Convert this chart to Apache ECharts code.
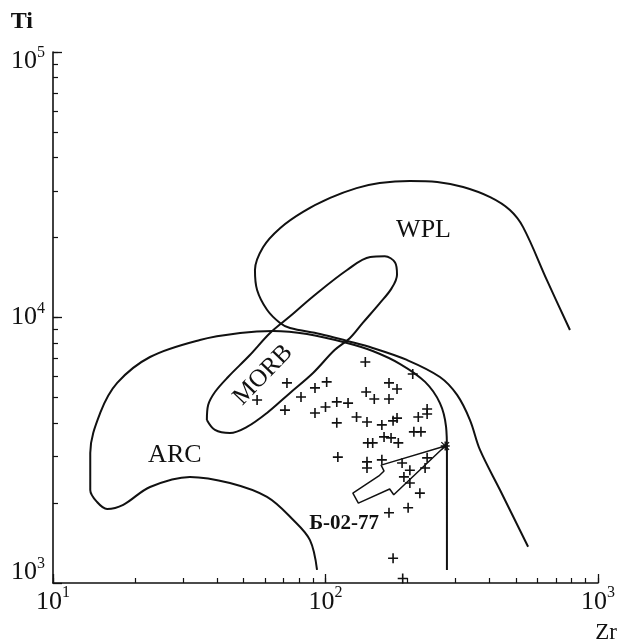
<!DOCTYPE html>
<html>
<head>
<meta charset="utf-8">
<title>Ti - Zr</title>
<script src="https://cdn.jsdelivr.net/npm/echarts@6/dist/echarts.min.js"></script>
<style>
  html, body { margin: 0; padding: 0; background: #fff; }
  #chart { width: 618px; height: 641px; }
</style>
</head>
<body>
<div id="chart"></div>
<script>
// samples, ppm
const sampleZr = [56.1, 72.2, 71.0, 81.3, 91.5, 101, 91.5, 100, 110, 121, 110, 140, 141, 151, 171, 183,
  171, 209, 130, 142, 161, 177, 183, 219, 236, 236, 211, 224, 143, 149, 164, 174, 185, 111, 142, 142,
  161, 191, 204, 194, 204, 236, 232, 222, 201, 171, 177, 192];
const sampleTi = [4890, 5670, 4480, 5020, 5430, 5720, 4370, 4600, 4810, 4760, 4010, 6800, 5240, 4930, 5670, 5380,
  4930, 6130, 4220, 4040, 3940, 4080, 4180, 4220, 4520, 4330, 3710, 3710, 3370, 3370, 3550, 3520, 3370, 2980, 2860, 2710,
  2910, 2830, 2660, 2510, 2380, 2960, 2710, 2180, 1920, 1840, 1240, 1040];

// sample Б-02-77
const markedZr = [275];
const markedTi = [3280];

// field boundaries
const wplZr = [789, 650, 531, 475, 402, 320, 257, 204, 158, 130, 104, 82.7, 68.1, 59.0, 55.1, 56.1, 61.0, 68.1,
  74.1, 95.5, 120, 149, 199, 263, 304, 339, 369, 437, 554];
const wplTi = [8970, 13800, 21900, 25400, 28400, 31000, 32400, 32700, 32100, 30700, 28200, 25000, 21700, 18400, 15100, 12700, 10700, 9540,
  9130, 8670, 8160, 7680, 6920, 5970, 5110, 4110, 3170, 2240, 1370];

const arcZr = [279, 279, 277, 263, 232, 188, 149, 120, 85.5, 64.2, 48.6, 34.6, 22.7, 17.2, 14.9, 13.7, 13.7,
  14.5, 15.8, 18.1, 22.7, 31.8, 44.6, 61.0, 76.0, 87.7, 93.1];
const arcTi = [1120, 3170, 3870, 4760, 5720, 6680, 7480, 8020, 8670, 8900, 8740, 8230, 7100, 5670, 4370, 3090, 2240,
  2020, 1900, 1970, 2300, 2510, 2380, 2110, 1730, 1450, 1120];

const morbZr = [36.7, 37.1, 39.3, 43.9, 52.8, 62.6, 74.1, 90.0, 120, 146, 165, 180, 183, 175, 158, 137, 123,
  108, 90.0, 74.1, 61.0, 51.5, 44.6, 39.3, 36.7];
const morbTi = [4110, 4680, 5240, 5970, 7220, 8740, 10100, 12000, 15100, 16900, 17000, 16100, 14500, 12900, 11300, 9540, 8370,
  7540, 6180, 5200, 4370, 3870, 3670, 3770, 4110];

// arrow pointing at Б-02-77
const arrowZr = [275, 160, 164, 157, 126, 132, 172, 178, 275];
const arrowTi = [3280, 2780, 2640, 2530, 2180, 2000, 2260, 2150, 3280];

// text in the plot
const fieldNames = ['WPL', 'ARC', 'MORB'];
const fieldZr = [229, 28.0, 59.0];
const fieldTi = [21400, 3040, 6070];
const sampleLabel = ['Б-02-77'];
const sampleLabelZr = [117];
const sampleLabelTi = [1670];

// ticks
const majorZrTicks = [10, 100, 1000];
const minorZrTicks = [20, 30, 40, 50, 60, 70, 80, 90, 200, 300, 400, 500, 600, 700, 800, 900];
const majorTiTicks = [1000, 10000, 100000];
const minorTiTicks = [2000, 3000, 4000, 5000, 6000, 7000, 8000, 9000,
  20000, 30000, 40000, 50000, 60000, 70000, 80000, 90000];

const serif = '"Liberation Serif", "Times New Roman", serif';
const ink = '#111';

const pairs = (xs, ys) => xs.map((x, i) => [x, ys[i]]);

const boundary = (name, xs, ys) => ({
  name: name,
  type: 'line',
  data: pairs(xs, ys),
  smooth: 0.35,
  symbol: 'none',
  silent: true,
  lineStyle: { color: ink, width: 2 }
});

const plusPath = 'path://M4.2,0h1.6v4.2h4.2v1.6h-4.2v4.2h-1.6v-4.2h-4.2v-1.6h4.2z';
const starPath = 'path://M4.2,0h1.6v10h-1.6z M0,4.2h10v1.6h-10z M1.2,0.2L9.8,8.8L8.8,9.8L0.2,1.2z M8.8,0.2L9.8,1.2L1.2,9.8L0.2,8.8z';

const exp = v => Math.round(Math.log10(v));

const powRich = {
  b: { fontFamily: serif, fontSize: 26, color: ink },
  s: { fontFamily: serif, fontSize: 16, color: ink, padding: [0, 0, 18, 0] },
  bLo: { fontFamily: serif, fontSize: 26, color: ink, padding: [0, 0, 21, 0] },
  sLo: { fontFamily: serif, fontSize: 16, color: ink, padding: [0, 0, 39, 0] },
  bHi: { fontFamily: serif, fontSize: 26, color: ink, padding: [19, 0, 0, 0] },
  sHi: { fontFamily: serif, fontSize: 16, color: ink, padding: [19, 0, 18, 0] }
};

// second axis on the same side, only for the long decade ticks
const majorAxis = (pos, min, max, ticks) => ({
  type: 'log',
  logBase: 10,
  min: min,
  max: max,
  position: pos,
  axisLine: { show: false },
  axisLabel: { show: false },
  splitLine: { show: false },
  axisTick: { show: true, inside: true, length: 9, customValues: ticks, lineStyle: { color: ink, width: 1.3 } }
});

const chart = echarts.init(document.getElementById('chart'));

chart.setOption({
  animation: false,
  backgroundColor: '#fff',
  grid: { left: 53, right: 20, top: 52, bottom: 58, outerBoundsMode: 'none' },
  xAxis: [{
    type: 'log',
    logBase: 10,
    min: 10,
    max: 1000,
    position: 'bottom',
    name: 'Zr',
    nameLocation: 'end',
    nameGap: 19,
    nameTextStyle: { fontFamily: serif, fontSize: 23, color: ink, align: 'right', verticalAlign: 'top', padding: [38, 0, 0, 0] },
    axisLine: { show: true, lineStyle: { color: ink, width: 1.6 } },
    axisTick: { show: true, inside: true, length: 5, customValues: majorZrTicks.concat(minorZrTicks), lineStyle: { color: ink, width: 1.2 } },
    splitLine: { show: false },
    axisLabel: {
      margin: 2,
      showMinLabel: true,
      showMaxLabel: true,
      formatter: v => '{b|10}{s|' + exp(v) + '}',
      rich: powRich
    }
  }, majorAxis('bottom', 10, 1000, majorZrTicks)],
  yAxis: [{
    type: 'log',
    logBase: 10,
    min: 1000,
    max: 100000,
    position: 'left',
    name: 'Ti',
    nameLocation: 'end',
    nameGap: 18,
    nameTextStyle: { fontFamily: serif, fontSize: 24, fontWeight: 'bold', color: ink, align: 'right', verticalAlign: 'bottom', padding: [0, 20, 0, 0] },
    axisLine: { show: true, lineStyle: { color: ink, width: 1.6 } },
    axisTick: { show: true, inside: true, length: 5, customValues: majorTiTicks.concat(minorTiTicks), lineStyle: { color: ink, width: 1.2 } },
    splitLine: { show: false },
    axisLabel: {
      margin: 8,
      showMinLabel: true,
      showMaxLabel: true,
      formatter: v => {
        const e = exp(v);
        if (e === 3) return '{bLo|10}{sLo|' + e + '}';
        if (e === 5) return '{bHi|10}{sHi|' + e + '}';
        return '{b|10}{s|' + e + '}';
      },
      rich: powRich
    }
  }, majorAxis('left', 1000, 100000, majorTiTicks)],
  series: [
    boundary('WPL', wplZr, wplTi),
    boundary('ARC', arcZr, arcTi),
    boundary('MORB', morbZr, morbTi),
    {
      name: 'arrow',
      type: 'line',
      data: pairs(arrowZr, arrowTi),
      symbol: 'none',
      silent: true,
      lineStyle: { color: ink, width: 1.5 }
    },
    {
      name: 'samples',
      type: 'scatter',
      data: pairs(sampleZr, sampleTi),
      symbol: plusPath,
      symbolSize: 10,
      itemStyle: { color: ink, opacity: 1 }
    },
    {
      name: 'Б-02-77',
      type: 'scatter',
      data: pairs(markedZr, markedTi),
      symbol: starPath,
      symbolSize: 9,
      itemStyle: { color: ink, opacity: 1 }
    },
    {
      // same point on the second pair of axes, invisible, so those axes get drawn
      name: 'Б-02-77 (ticks)',
      type: 'scatter',
      xAxisIndex: 1,
      yAxisIndex: 1,
      silent: true,
      symbolSize: 0,
      data: pairs(markedZr, markedTi)
    },
    {
      name: 'fields',
      type: 'scatter',
      symbolSize: 0,
      silent: true,
      itemStyle: { opacity: 1 },
      data: fieldNames.map((n, i) => ({
        name: n,
        value: [fieldZr[i], fieldTi[i]],
        label: { rotate: n === 'MORB' ? 46 : 0, fontSize: n === 'MORB' ? 25 : 26 }
      })),
      label: { show: true, position: 'inside', formatter: '{b}', fontFamily: serif, color: ink, opacity: 1 }
    },
    {
      name: 'sample label',
      type: 'scatter',
      symbolSize: 0,
      silent: true,
      itemStyle: { opacity: 1 },
      data: sampleLabel.map((n, i) => ({ name: n, value: [sampleLabelZr[i], sampleLabelTi[i]] })),
      label: { show: true, position: 'inside', formatter: '{b}', fontFamily: serif, fontSize: 21, fontWeight: 'bold', color: ink, opacity: 1 }
    }
  ]
});
</script>
</body>
</html>
